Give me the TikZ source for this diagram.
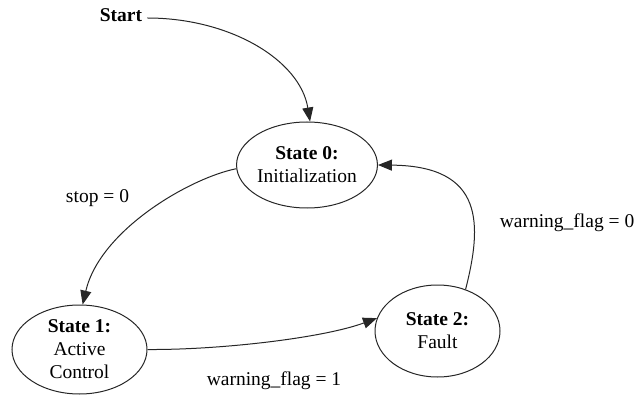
\documentclass[tikz,border=0pt]{standalone}
\usepackage{fontspec}
\setmainfont{Liberation Serif}
\usetikzlibrary{arrows.meta,shapes.geometric}
\begin{document}
\begin{tikzpicture}[x=1pt,y=-1pt,
  every node/.style={font=\fontsize{19.5}{23}\selectfont},
  state/.style={draw=black!85,line width=1pt,ellipse,inner sep=0pt,align=center},
  lbl/.style={anchor=base,inner sep=0pt},
  edge/.style={draw=black!85,line width=1pt,-{Triangle[length=14pt,width=11pt]}}]
\useasboundingbox (0,0) rectangle (636,395);
\node[state,minimum width=140pt,minimum height=86pt] (s0) at (307,165) {\textbf{State 0:}\\Initialization};
\node[state,minimum width=135pt,minimum height=89pt] (s1) at (79.5,349.5) {\textbf{State 1:}\\Active\\Control};
\node[state,minimum width=125pt,minimum height=92pt] (s2) at (437.5,331) {\textbf{State 2:}\\Fault};
\node[lbl] (start) at (121,22) {\textbf{Start}};
\node[lbl] (l0) at (97.5,203) {stop = 0};
\node[lbl] (l1) at (274,385) {warning\_flag = 1};
\node[lbl] (l2) at (567,227) {warning\_flag = 0};
\draw[edge] ([xshift=5pt,yshift=4pt]start.base east) .. controls (230,18) and (300,60) .. (s0.86);
\draw[edge] (s0.183) .. controls (190,178) and (100,230) .. (s1.86);
\draw[edge] (s1.east) .. controls (220,350) and (323,338) .. (s2.168);
\draw[edge] (s2.56) .. controls (482,225) and (485,166) .. (s0.east);
\end{tikzpicture}
\end{document}
